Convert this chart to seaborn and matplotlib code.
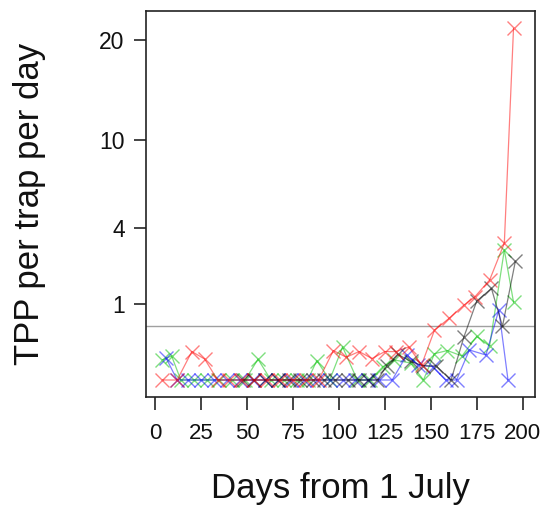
import numpy as np
import pandas as pd
import matplotlib
matplotlib.use("Agg")
import matplotlib.pyplot as plt
import seaborn as sns

# TPP catches per trap per day, one series per site
red_days = [4, 12, 20, 27, 34, 40, 47, 54, 61, 68, 75, 82, 89, 97, 104, 111, 118,
            125, 131, 138, 145, 152, 160, 168, 174, 182, 190, 195]
red_vals = [0, 0, 0.14, 0.076, 0, 0, 0, 0, 0, 0, 0, 0, 0, 0.15, 0.09, 0.14, 0.08,
            0.14, 0.14, 0.19, 0.04, 0.43, 0.66, 0.97, 1.2, 1.73, 3.24, 21.4]

blue_days = [6, 12, 18, 25, 32, 39, 46, 53, 60, 67, 74, 81, 88, 95, 102, 109, 116,
             122, 129, 137, 143, 151, 158, 164, 171, 180, 187, 192]
blue_vals = [0.084, 0, 0, 0, 0, 0, 0, 0, 0, 0, 0, 0, 0, 0, 0, 0, 0,
             0, 0, 0.11, 0.039, 0.031, 0, 0, 0.156, 0.108, 0.85, 0]

green_days = [4, 9, 14, 21, 28, 35, 42, 49, 56, 63, 70, 77, 83, 88, 95, 102, 110,
              117, 124, 130, 139, 146, 152, 159, 167, 175, 182, 190, 195]
green_vals = [0.07, 0.1, 0, 0, 0, 0, 0, 0, 0.075, 0, 0, 0, 0, 0.065, 0, 0.19, 0,
              0, 0.031, 0.07, 0.05, 0, 0.12, 0.15, 0.1, 0.33, 0.2, 2.93, 1.05]

black_days = [48, 54, 60, 67, 73, 79, 86, 92, 98, 105, 111, 116, 121, 126, 132,
              139, 146, 153, 161, 168, 175, 183, 189, 196]
black_vals = [0, 0, 0, 0, 0, 0, 0, 0, 0, 0, 0, 0, 0, 0.035, 0.115,
              0.06, 0.035, 0.034, 0, 0.32, 1.08, 1.45, 0.5, 2.44]

threshold = 0.5
y_ticks = [1, 4, 10, 20]
x_ticks = [0, 25, 50, 75, 100, 125, 150, 175, 200]

series = {
    "green": (green_days, green_vals, "#00C000"),
    "blue": (blue_days, blue_vals, "#0000FF"),
    "black": (black_days, black_vals, "#000000"),
    "red": (red_days, red_vals, "#FF0000"),
}

df = pd.concat(
    [pd.DataFrame({"day": d, "tpp": v, "site": k}) for k, (d, v, _) in series.items()],
    ignore_index=True,
)

sns.set_style("ticks")
plt.rcParams["font.family"] = ["Liberation Sans", "DejaVu Sans"]
plt.rcParams["text.color"] = "#111111"
plt.rcParams["axes.labelcolor"] = "#111111"
plt.rcParams["xtick.color"] = "#111111"
plt.rcParams["ytick.color"] = "#111111"

fig = plt.figure(figsize=(5.44, 5.12), dpi=100)
ax = fig.add_axes([0.2675, 0.2246, 0.716, 0.7539])


def fwd(v):
    v = np.asarray(v, dtype=float)
    return np.sign(v) * np.sqrt(np.abs(v))


def inv(v):
    v = np.asarray(v, dtype=float)
    return np.sign(v) * v ** 2


ax.set_yscale("function", functions=(fwd, inv))
ax.axhline(threshold, color="#a0a0a0", lw=1.0, zorder=1)

for site, (_, _, col) in series.items():
    sns.lineplot(data=df[df.site == site], x="day", y="tpp", ax=ax,
                 color=col, alpha=0.5, lw=0.9, marker="x", markersize=10,
                 mec=col, mew=1.0, estimator=None, sort=False, legend=False)

ax.set_xlim(-5.2, 206.7)
ax.set_ylim(-0.05, 23.57)
ax.set_yticks(y_ticks)
ax.set_yticklabels([str(t) for t in y_ticks])
ax.set_xticks(x_ticks)
ax.minorticks_off()

for s in ax.spines.values():
    s.set_visible(True)
    s.set_linewidth(1.2)
    s.set_color("#222222")

ax.tick_params(axis="x", length=9, width=1.1, pad=10, labelsize=16)
ax.tick_params(axis="y", length=9, width=1.1, pad=6, labelsize=16.5)

ax.set_xlabel("Days from 1 July", fontsize=25, labelpad=20)
ax.set_ylabel("TPP per trap per day", fontsize=25, labelpad=38)

fig.savefig("out.png", dpi=100)
plt.close(fig)
